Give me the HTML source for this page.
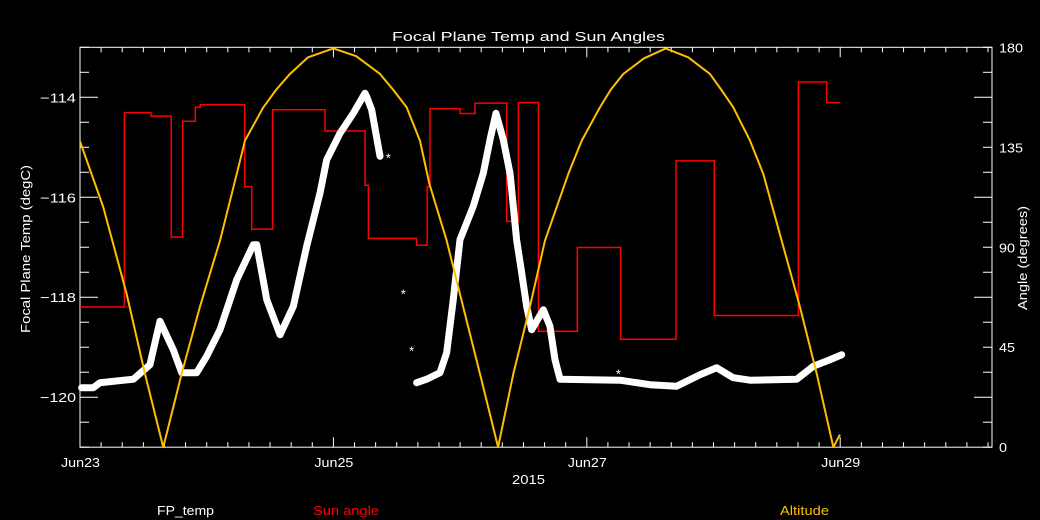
<!DOCTYPE html>
<html><head><meta charset="utf-8"><style>
html,body{margin:0;padding:0;background:#000;}
svg{display:block;}
text{font-family:"Liberation Sans",sans-serif;font-size:13px;}
</style></head><body>
<svg id="chart" width="1040" height="520" viewBox="0 0 1040 520" xmlns="http://www.w3.org/2000/svg">
<rect x="0" y="0" width="1040" height="520" fill="#000"/>
<text x="392" y="41" fill="#fff" textLength="273" lengthAdjust="spacingAndGlyphs">Focal Plane Temp and Sun Angles</text>
<text transform="translate(30,333) rotate(-90)" fill="#fff" textLength="168" lengthAdjust="spacingAndGlyphs">Focal Plane Temp (degC)</text>
<text transform="translate(1027,310) rotate(-90)" fill="#fff" textLength="104" lengthAdjust="spacingAndGlyphs">Angle (degrees)</text>
<text x="512" y="484" fill="#fff" textLength="33" lengthAdjust="spacingAndGlyphs">2015</text>
<text x="157" y="515" fill="#fff" textLength="57" lengthAdjust="spacingAndGlyphs">FP_temp</text>
<text x="313" y="515" fill="#ff0000" textLength="66" lengthAdjust="spacingAndGlyphs">Sun angle</text>
<text x="780" y="515" fill="#ffbf00" textLength="49" lengthAdjust="spacingAndGlyphs">Altitude</text>
<g id="plot"></g>
</svg>
<script>
// days since Jun23 00:00
const xTickLabels = ["Jun23","Jun25","Jun27","Jun29"];
const xTickDays = [0,2,4,6];
const leftTickValues = [-114,-116,-118,-120];
const rightTickValues = [180,135,90,45,0];
// Altitude (degrees)
const altDays = [0,0.184,0.368,0.513,0.657,0.803,0.947,1.105,1.237,1.302,1.447,1.55,1.657,1.8,2.0,2.18,2.368,2.47,2.578,2.683,2.757,2.894,3.025,3.157,3.30,3.42,3.55,3.67,3.854,3.96,4.104,4.19,4.288,4.45,4.623,4.8,4.972,5.06,5.156,5.288,5.393,5.538,5.683,5.815,5.946,5.998];
const altValues = [137.7,108,69,33,0,33.2,63.3,93,123,138,153,161,168,175.5,179.5,176,168,161,153,138,118.7,93,63,33,0,33,63,93,123,138,153,161,168,175,179.5,175.5,168,161,153,138,123,93,63,33,0,5.7];
// Sun angle step series (degrees)
const sunDays = [0,0.35,0.37,0.56,0.72,0.81,0.91,0.95,1.30,1.355,1.52,1.934,2.25,2.276,2.657,2.74,2.762,3.0,3.118,3.368,3.46,3.618,3.925,4.267,4.704,5.006,5.67,5.893,6.0];
const sunValues = [63.1,150.6,150.6,149,94.6,146.7,153.1,154.2,117.3,98.1,151.9,142.3,117.9,94,90.9,117.3,152.4,150.2,154.9,101.7,155.1,52.2,89.9,48.6,128.9,59.3,164.4,155.1,155.1];
// Focal plane temperature (degC)
const fpDays = [0.013,0.105,0.158,0.421,0.552,0.631,0.736,0.803,0.921,1.0,1.105,1.237,1.368,1.395,1.474,1.579,1.684,1.789,1.894,1.947,2.052,2.157,2.249,2.263,2.302,2.368];
const fpValues = [-119.81,-119.81,-119.71,-119.64,-119.35,-118.48,-119.05,-119.51,-119.51,-119.18,-118.65,-117.65,-116.95,-116.95,-118.05,-118.75,-118.18,-116.98,-115.92,-115.25,-114.72,-114.32,-113.92,-113.99,-114.25,-115.18];
const fp2Days = [2.657,2.736,2.841,2.894,2.946,2.999,3.104,3.183,3.236,3.283,3.341,3.394,3.446,3.486,3.525,3.565,3.657,3.709,3.749,3.789,4.262,4.499,4.709,4.893,5.025,5.156,5.288,5.657,5.788,5.919,6.012];
const fp2Values = [-119.71,-119.64,-119.51,-119.11,-118.05,-116.85,-116.18,-115.52,-114.85,-114.32,-114.85,-115.52,-116.85,-117.51,-118.18,-118.65,-118.25,-118.58,-119.25,-119.64,-119.66,-119.75,-119.78,-119.55,-119.41,-119.61,-119.66,-119.64,-119.38,-119.25,-119.15];
const fpIsoDays = [2.433,2.552,2.618,4.249];
const fpIsoValues = [-115.18,-117.91,-119.05,-119.51];

const L=80,R=992,T=47.3,B=447.2,PXD=126.7;
const xs=d=>L+d*PXD;
const yT=v=>T+(-113-v)*(B-T)/8;
const yA=a=>B-a*(B-T)/180;
const NS="http://www.w3.org/2000/svg";
const g=document.getElementById('plot');
function mk(tag,attrs){const e=document.createElementNS(NS,tag);for(const k in attrs)e.setAttribute(k,attrs[k]);g.appendChild(e);return e;}

let f=mk('rect',{x:L,y:T,width:R-L,height:B-T,fill:'none',stroke:'#fff','stroke-width':1});


for(let i=0;i*PXD/6+L<=R;i++){
  const x=xs(i/6);const major=(i%12===0);const len=major?10:5;
  let t1=mk('line',{x1:x,x2:x,y1:B,y2:B-len,stroke:'#fff'});
  
  
  let t2=mk('line',{x1:x,x2:x,y1:T,y2:T+len,stroke:'#fff'});
  
  
}
xTickLabels.forEach((s,i)=>{
  let t=mk('text',{x:xs(xTickDays[i])-19,y:467,fill:'#fff',textLength:39,lengthAdjust:'spacingAndGlyphs'});t.textContent=s;
  
  
});
for(let k=0;k<=16;k++){
  const v=-113-k*0.5;const y=yT(v);const major=(k%4===2);const len=major?18:9;
  let t=mk('line',{x1:L,x2:L+len,y1:y,y2:y,stroke:'#fff'});
  
  
  let t2=mk('line',{x1:R,x2:R-len,y1:y,y2:y,stroke:'#fff'});
  
  
}
leftTickValues.forEach(v=>{
  let t=mk('text',{x:40,y:yT(v)+5,fill:'#fff',textLength:36,lengthAdjust:'spacingAndGlyphs'});t.textContent='\u2212'+Math.abs(v);
  
  
});
rightTickValues.forEach(v=>{
  const s=String(v);
  let t=mk('text',{x:999,y:yA(v)+5,fill:'#fff',textLength:s.length*8,lengthAdjust:'spacingAndGlyphs'});t.textContent=s;
  
  
});
let sp='';
sunDays.forEach((d,i)=>{
  const x=xs(d),y=yA(sunValues[i]);
  if(i===0)sp+=`M${x},${y}`;else sp+=`L${x},${yA(sunValues[i-1])}L${x},${y}`;
});
let sl=mk('path',{d:sp,fill:'none',stroke:'#ff0000','stroke-width':1.5});


function trail(days,vals,name){
  const d=days.map((t,i)=>(i?'L':'M')+xs(t)+','+yT(vals[i])).join('');
  let p=mk('path',{d:d,fill:'none',stroke:'#fff','stroke-width':7,'stroke-linejoin':'round','stroke-linecap':'round'});
  
  
}
trail(fpDays,fpValues,'fp-temp-series-1');
trail(fp2Days,fp2Values,'fp-temp-series-2');
fpIsoDays.forEach((d,i)=>{
  let s=mk('text',{x:xs(d),y:yT(fpIsoValues[i])+6,fill:'#fff','text-anchor':'middle','font-size':'14px'});s.textContent='*';
  
  
});
const ap=altDays.map((t,i)=>(i?'L':'M')+xs(t)+','+yA(altValues[i])).join('');
let al=mk('path',{d:ap,fill:'none',stroke:'#ffbf00','stroke-width':2,'stroke-linejoin':'round'});


</script>
</body></html>
